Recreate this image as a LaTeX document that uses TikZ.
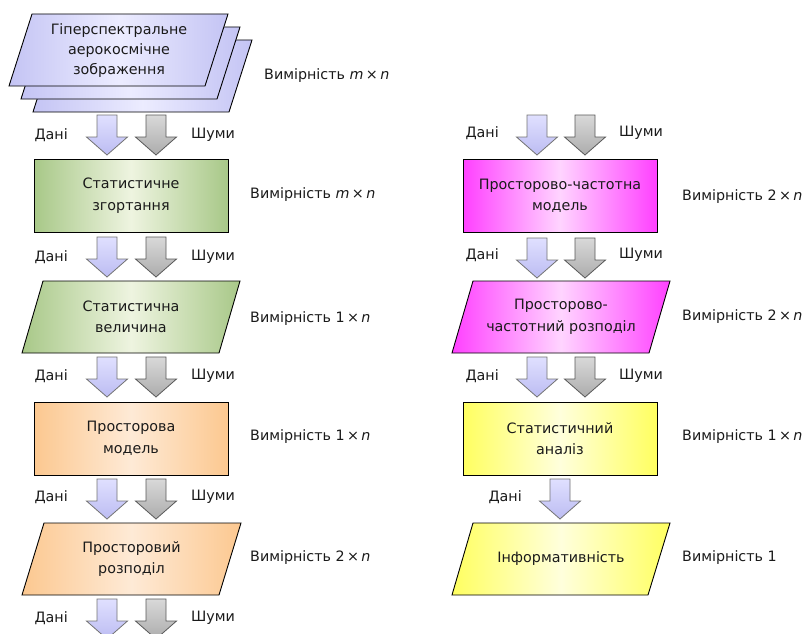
\documentclass[tikz,border=0pt]{standalone}
\usepackage{fontspec}
\setmainfont{DejaVu Sans}
\definecolor{lavE}{HTML}{C4C4F4}
\definecolor{lavC}{HTML}{ECECFF}
\definecolor{grE}{HTML}{A8C888}
\definecolor{grC}{HTML}{EEF4E0}
\definecolor{orE}{HTML}{FCC890}
\definecolor{orC}{HTML}{FEEAD6}
\definecolor{mgE}{HTML}{FF40FF}
\definecolor{mgC}{HTML}{FFD4FF}
\definecolor{ylE}{HTML}{FFFF60}
\definecolor{ylC}{HTML}{FFFFDC}
\definecolor{txt}{HTML}{1A1A1A}
\definecolor{arrT}{HTML}{E0E0FF}
\definecolor{arrB}{HTML}{BCBCF2}
\tikzset{
  outl/.style={draw=black, line width=0.9pt},
  lavfill/.style={left color=lavE, right color=lavE, middle color=lavC},
  grfill/.style={left color=grE, right color=grE, middle color=grC},
  orfill/.style={left color=orE, right color=orE, middle color=orC},
  mgfill/.style={left color=mgE, right color=mgE, middle color=mgC},
  ylfill/.style={left color=ylE, right color=ylE, middle color=ylC},
  boxtext/.style={align=center, text=txt, font=\fontsize{14.3}{21.5}\selectfont, inner sep=0pt},
  rectbox/.style={outl, minimum width=194pt, minimum height=73pt, align=center, text=txt,
     font=\fontsize{14.3}{21.5}\selectfont, inner sep=0pt},
  dimlab/.style={anchor=west, text=txt, font=\fontsize{14.3}{16}\selectfont, inner sep=0pt},
  datalab/.style={anchor=east, text=txt, font=\fontsize{14.3}{16}\selectfont, inner sep=0pt},
  noiselab/.style={anchor=west, text=txt, font=\fontsize{14.3}{16}\selectfont, inner sep=0pt},
  dataarr/.style={draw=gray!90!black, line width=0.8pt, top color=arrT, bottom color=arrB},
  noisearr/.style={draw=gray!70!black, line width=0.8pt, top color=gray!30, bottom color=gray!65},
  darr/.pic={\path[pic actions] (-10,0) -- (10,0) -- (10,22) -- (20.5,22) -- (0,40)
      -- (-20.5,22) -- (-10,22) -- cycle;}
}
\begin{document}
\begin{tikzpicture}[x=1pt,y=-1pt]
\useasboundingbox (0,0) rectangle (808,634);
\clip (0,0) rectangle (808,634);
% ---------- left column ----------
% document stack
\path[outl, lavfill] (33,112) -- (56,40) -- (252,40) -- (229,112) -- cycle;
\path[outl, lavfill] (21,99) -- (44,27) -- (240,27) -- (217,99) -- cycle;
\path[outl, lavfill] (9,86) -- (32,14) -- (228,14) -- (205,86) -- cycle;
\node[boxtext, font=\fontsize{14.3}{20}\selectfont] (img) at (119,51) {Гіперспектральне\\аерокосмічне\\зображення};
\node[dimlab] (dimA) at (264,76) {Вимірність \textit{m}\,×\,\textit{n}};
% row 1 arrows
\pic[dataarr] at (107,115) {darr};
\pic[noisearr] at (156,115) {darr};
\node[datalab] (dA1) at (68,135) {Дані};
\node[noiselab] (nA1) at (191,135) {Шуми};
% box 2
\node[rectbox, grfill] (conv) at (131,195.5) {Статистичне\\згортання};
\node[dimlab] (dimB) at (250,195) {Вимірність \textit{m}\,×\,\textit{n}};
\pic[dataarr] at (107,237) {darr};
\pic[noisearr] at (156,237) {darr};
\node[datalab] (dA2) at (68,257) {Дані};
\node[noiselab] (nA2) at (191,257) {Шуми};
% parallelogram 3
\path[outl, grfill] (22,353) -- (43,281) -- (240,281) -- (219,353) -- cycle;
\node[boxtext] (stat) at (131,317) {Статистична\\величина};
\node[dimlab] (dimC) at (250,319) {Вимірність 1\,×\,\textit{n}};
\pic[dataarr] at (107,357) {darr};
\pic[noisearr] at (156,357) {darr};
\node[datalab] (dA3) at (68,376) {Дані};
\node[noiselab] (nA3) at (191,376) {Шуми};
% box 4
\node[rectbox, orfill] (smod) at (131,438.5) {Просторова\\модель};
\node[dimlab] (dimD) at (250,437) {Вимірність 1\,×\,\textit{n}};
\pic[dataarr] at (107,479) {darr};
\pic[noisearr] at (156,479) {darr};
\node[datalab] (dA4) at (68,497) {Дані};
\node[noiselab] (nA4) at (191,497) {Шуми};
% parallelogram 5
\path[outl, orfill] (22,595) -- (44,523) -- (241,523) -- (219,595) -- cycle;
\node[boxtext] (sdist) at (131.5,559) {Просторовий\\розподіл};
\node[dimlab] (dimE) at (250,558) {Вимірність 2\,×\,\textit{n}};
\pic[dataarr] at (107,599) {darr};
\pic[noisearr] at (156,599) {darr};
\node[datalab] (dA5) at (68,618) {Дані};
\node[noiselab] (nA5) at (191,618) {Шуми};
% ---------- right column ----------
\pic[dataarr] at (537,115) {darr};
\pic[noisearr] at (585,115) {darr};
\node[datalab] (dB1) at (499,133) {Дані};
\node[noiselab] (nB1) at (619,133) {Шуми};
\node[rectbox, mgfill] (sfmod) at (560,196) {Просторово-частотна\\модель};
\node[dimlab] (dimF) at (682,197) {Вимірність 2\,×\,\textit{n}};
\pic[dataarr] at (537,238) {darr};
\pic[noisearr] at (585,238) {darr};
\node[datalab] (dB2) at (499,255) {Дані};
\node[noiselab] (nB2) at (619,255) {Шуми};
\path[outl, mgfill] (452,353) -- (473,281) -- (670,281) -- (649,353) -- cycle;
\node[boxtext] (sfdist) at (561,317) {Просторово-\\частотний розподіл};
\node[dimlab] (dimG) at (682,317) {Вимірність 2\,×\,\textit{n}};
\pic[dataarr] at (537,357) {darr};
\pic[noisearr] at (585,357) {darr};
\node[datalab] (dB3) at (499,376) {Дані};
\node[noiselab] (nB3) at (619,376) {Шуми};
\node[rectbox, ylfill] (sanal) at (560,438.5) {Статистичний\\аналіз};
\node[dimlab] (dimH) at (682,437) {Вимірність 1\,×\,\textit{n}};
\pic[dataarr] at (560,479) {darr};
\node[datalab] (dB4) at (522,497) {Дані};
\path[outl, ylfill] (452,595) -- (473,523) -- (670,523) -- (648,595) -- cycle;
\node[boxtext] (info) at (561,559) {Інформативність};
\node[dimlab] (dimI) at (682,558) {Вимірність 1};
\end{tikzpicture}
\end{document}
